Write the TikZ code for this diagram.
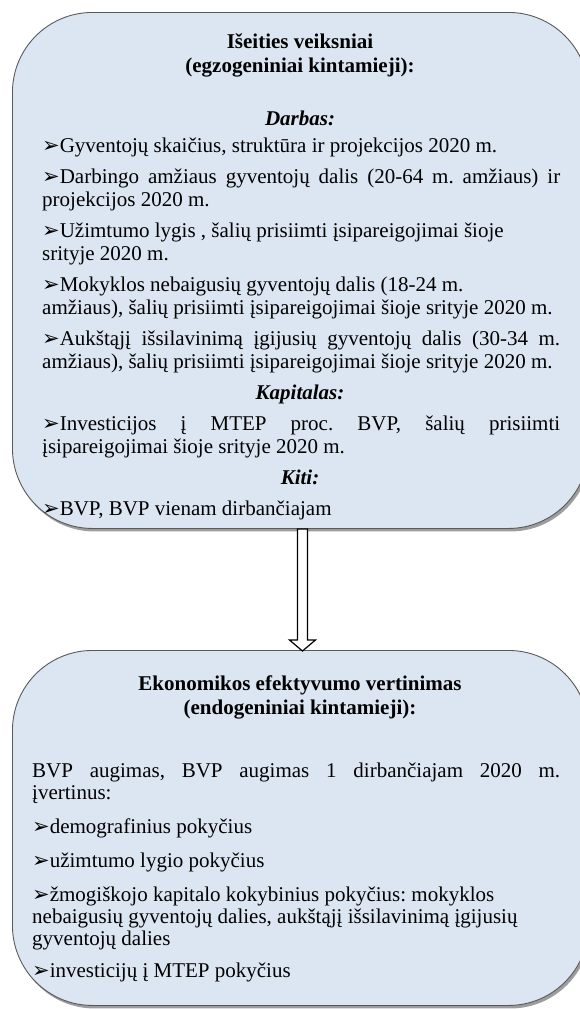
\documentclass[tikz,border=0pt]{standalone}
\usepackage{fontspec}
\setmainfont{Liberation Serif}
\newfontfamily\dejavu{DejaVu Sans}
\usetikzlibrary{shadows,calc}
\definecolor{boxfill}{HTML}{DCE6F2}
\definecolor{boxline}{HTML}{5A5A5A}
\newcommand\mk{{\dejavu\fontsize{21}{21}\selectfont ➢}}
\tikzset{
 box/.style={draw=boxline, line width=0.9pt, fill=boxfill, rounded corners=80pt,
   drop shadow={shadow xshift=2pt, shadow yshift=-3pt, opacity=0.55, fill=black!70},
   inner sep=0pt, anchor=north west},
 ln/.style={anchor=base west, inner sep=0pt, font=\fontsize{21}{22}\selectfont},
 ttl/.style={anchor=base, inner sep=0pt, font=\fontsize{21}{22}\selectfont\bfseries},
 sec/.style={anchor=base, inner sep=0pt, font=\fontsize{21}{22}\selectfont\bfseries\itshape},
 blockarrow/.style={draw=black, fill=white, line width=1.2pt, line join=miter},
}
\begin{document}
\frenchspacing
\begin{tikzpicture}[x=1pt,y=-1pt]
\useasboundingbox (0,0) rectangle (580,1009);
\clip (0,0) rectangle (580,1009);
\node[box, minimum width=576pt, minimum height=516pt] (top) at (12,12) {};
\node[box, minimum width=576pt, minimum height=355pt] (bot) at (12,650) {};
% arrow
\coordinate (as) at ($(top.south)+(2,0)$);
\coordinate (ae) at ($(bot.north)+(2,1)$);
\draw[blockarrow] ($(as)+(-5,0)$) -- ($(ae)+(-5,-11)$) -- ($(ae)+(-13,-11)$) -- (ae)
  -- ($(ae)+(13,-11)$) -- ($(ae)+(5,-11)$) -- ($(as)+(5,0)$) -- cycle;
% top box text
\node[ttl] (h1) at (300,48) {Išeities veiksniai};
\node[ttl] (h2) at (300,72) {(egzogeniniai kintamieji):};
\node[sec] (s1) at (300,125) {Darbas:};
\node[ln] (a1) at (42,152) {\mk Gyventojų skaičius, struktūra ir projekcijos 2020 m.};
\node[ln] (a2) at (42,183) {\makebox[518pt][s]{\mk Darbingo amžiaus gyventojų dalis (20-64 m. amžiaus) ir}};
\node[ln] (a3) at (42,206) {projekcijos 2020 m.};
\node[ln] (a4) at (42,237) {\mk Užimtumo lygis , šalių prisiimti įsipareigojimai šioje};
\node[ln] (a5) at (42,260) {srityje 2020 m.};
\node[ln] (a6) at (42,291) {\mk Mokyklos nebaigusių gyventojų dalis (18-24 m.};
\node[ln] (a7) at (42,314) {amžiaus), šalių prisiimti įsipareigojimai šioje srityje 2020 m.};
\node[ln] (a8) at (42,345) {\makebox[518pt][s]{\mk Aukštąjį išsilavinimą įgijusių gyventojų dalis (30-34 m.}};
\node[ln] (a9) at (42,368) {amžiaus), šalių prisiimti įsipareigojimai šioje srityje 2020 m.};
\node[sec] (s2) at (300,399) {Kapitalas:};
\node[ln] (b1) at (42,430) {\makebox[518pt][s]{\mk Investicijos į MTEP proc. BVP, šalių prisiimti}};
\node[ln] (b2) at (42,453) {įsipareigojimai šioje srityje 2020 m.};
\node[sec] (s3) at (300,484) {Kiti:};
\node[ln] (c1) at (42,515) {\mk BVP, BVP vienam dirbančiajam};
% bottom box text
\node[ttl] (e1) at (300,690) {Ekonomikos efektyvumo vertinimas};
\node[ttl] (e2) at (300,714) {(endogeniniai kintamieji):};
\node[ln] (d1) at (32,777) {\makebox[528pt][s]{BVP augimas, BVP augimas 1 dirbančiajam 2020 m.}};
\node[ln] (d2) at (32,799) {įvertinus:};
\node[ln] (d3) at (32,833) {\mk demografinius pokyčius};
\node[ln] (d4) at (32,867) {\mk užimtumo lygio pokyčius};
\node[ln] (d5) at (32,901) {\mk žmogiškojo kapitalo kokybinius pokyčius: mokyklos};
\node[ln] (d6) at (32,923) {nebaigusių gyventojų dalies, aukštąjį išsilavinimą įgijusių};
\node[ln] (d7) at (32,945) {gyventojų dalies};
\node[ln] (d8) at (32,977) {\mk investicijų į MTEP pokyčius};
\end{tikzpicture}
\end{document}
